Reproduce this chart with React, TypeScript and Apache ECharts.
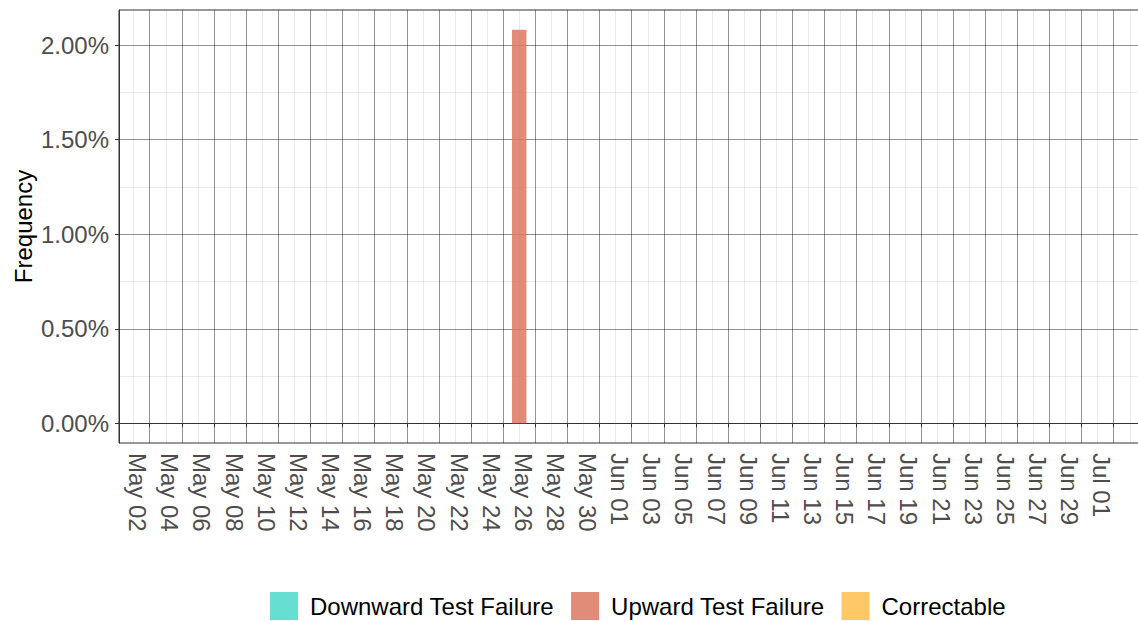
import React, { useEffect, useRef } from "react";
import * as echarts from "echarts";

const DAY = 86400000;
const FONT = "'Liberation Sans', Arial, Helvetica, sans-serif";
const MONTHS = ["Jan", "Feb", "Mar", "Apr", "May", "Jun", "Jul", "Aug", "Sep", "Oct", "Nov", "Dec"];

const seriesNames = ["Downward Test Failure", "Upward Test Failure", "Correctable"];
const seriesColors = ["#4BD8CA", "#DC7860", "#FFBE4B"];

const downwardDates: string[] = [];
const downwardValues: number[] = [];
const upwardDates = ["2024-05-25"];
const upwardValues = [0.02082];
const correctableDates: string[] = [];
const correctableValues: number[] = [];

const xTickDates = [
  "2024-05-02", "2024-05-04", "2024-05-06", "2024-05-08", "2024-05-10", "2024-05-12",
  "2024-05-14", "2024-05-16", "2024-05-18", "2024-05-20", "2024-05-22", "2024-05-24",
  "2024-05-26", "2024-05-28", "2024-05-30", "2024-06-01", "2024-06-03", "2024-06-05",
  "2024-06-07", "2024-06-09", "2024-06-11", "2024-06-13", "2024-06-15", "2024-06-17",
  "2024-06-19", "2024-06-21", "2024-06-23", "2024-06-25", "2024-06-27", "2024-06-29",
  "2024-07-01",
];
const yTickValues = [0, 0.005, 0.01, 0.015, 0.02];
const yMinorValues = [0.0025, 0.0075, 0.0125, 0.0175];
const yRange = [-0.00104, 0.02186];
const xRangeDaysFromFirstTick = [-1.91, 61.7];
const barWidthDays = 0.9;

const toMs = (s: string) => Date.parse(s + "T00:00:00Z");
const fmtDate = (v: number) => {
  const d = new Date(v);
  return MONTHS[d.getUTCMonth()] + " " + String(d.getUTCDate()).padStart(2, "0");
};
const fmtPct = (v: number) => (v * 100).toFixed(2) + "%";

export default function App() {
  const ref = useRef<HTMLDivElement>(null);
  useEffect(() => {
    if (!ref.current) return;
    const chart = echarts.init(ref.current, undefined, { renderer: "svg" });
    const majorX = xTickDates.map(toMs);
    const minorX: number[] = [majorX[0] - DAY];
    majorX.forEach((m) => minorX.push(m + DAY));
    const xMin = majorX[0] + xRangeDaysFromFirstTick[0] * DAY;
    const xMax = majorX[0] + xRangeDaysFromFirstTick[1] * DAY;

    const makeSeries = (name: string, color: string, dates: string[], values: number[]) => ({
      type: "custom" as const,
      name,
      xAxisIndex: 0,
      yAxisIndex: 0,
      itemStyle: { color, opacity: 0.85 },
      data: dates.map((d, i) => [toMs(d), values[i]]),
      renderItem: (params: any, api: any) => {
        const x = api.value(0);
        const y = api.value(1);
        const p0 = api.coord([x - (barWidthDays / 2) * DAY, 0]);
        const p1 = api.coord([x + (barWidthDays / 2) * DAY, y]);
        return {
          type: "rect",
          shape: { x: p0[0], y: p1[1], width: p1[0] - p0[0], height: p0[1] - p1[1] },
          style: { fill: color, opacity: 0.85 },
        };
      },
    });

    const axisLineStyle = { color: "#333333", width: 1 };
    const majorGrid = { color: "rgba(0,0,0,0.42)", width: 1 };
    const minorGrid = { color: "rgba(0,0,0,0.08)", width: 1 };

    chart.setOption({
      animation: false,
      textStyle: { fontFamily: FONT },
      grid: {
        left: 119,
        top: 10,
        right: -3,
        bottom: 178,
        outerBoundsMode: "none",
        containLabel: false,
        show: true,
        borderColor: "#333333",
        borderWidth: 1,
        backgroundColor: "transparent",
      },
      legend: {
        data: seriesNames,
        left: 270,
        top: 592,
        padding: 0,
        icon: "rect",
        itemWidth: 28,
        itemHeight: 28,
        itemGap: 17,
        textStyle: { fontSize: 24, color: "#000", fontFamily: FONT, padding: [0, 0, 0, 7] },
      },
      xAxis: [
        {
          type: "value",
          min: xMin,
          max: xMax,
          position: "bottom",
          axisLine: { show: true, lineStyle: axisLineStyle },
          axisTick: { show: true, length: 4, customValues: majorX, lineStyle: axisLineStyle },
          axisLabel: {
            customValues: majorX,
            rotate: -90,
            verticalAlign: "top",
            margin: 10,
            fontSize: 24,
            color: "#4D4D4D",
            fontFamily: FONT,
            formatter: fmtDate,
          },
          splitLine: { show: true, lineStyle: majorGrid },
        },
        {
          type: "value",
          min: xMin,
          max: xMax,
          position: "bottom",
          axisLine: { show: false },
          axisTick: { show: false, customValues: minorX },
          axisLabel: { show: false },
          splitLine: { show: true, lineStyle: minorGrid },
        },
      ],
      yAxis: [
        {
          type: "value",
          min: yRange[0],
          max: yRange[1],
          name: "Frequency",
          nameLocation: "middle",
          nameGap: 84,
          nameMoveOverlap: false,
          nameTextStyle: { fontSize: 24, color: "#000", fontFamily: FONT },
          axisLine: { show: true, lineStyle: axisLineStyle },
          axisTick: { show: true, length: 4, customValues: yTickValues, lineStyle: axisLineStyle },
          axisLabel: {
            customValues: yTickValues,
            margin: 10,
            fontSize: 24,
            color: "#4D4D4D",
            fontFamily: FONT,
            formatter: fmtPct,
          },
          splitLine: { show: true, lineStyle: majorGrid },
        },
        {
          type: "value",
          min: yRange[0],
          max: yRange[1],
          position: "left",
          axisLine: { show: false },
          axisTick: { show: false, customValues: yMinorValues },
          axisLabel: { show: false },
          splitLine: { show: true, lineStyle: minorGrid },
        },
      ],
      series: [
        makeSeries(seriesNames[0], seriesColors[0], downwardDates, downwardValues),
        makeSeries(seriesNames[1], seriesColors[1], upwardDates, upwardValues),
        makeSeries(seriesNames[2], seriesColors[2], correctableDates, correctableValues),
      ],
    });
    return () => chart.dispose();
  }, []);
  return (
    <div
      ref={ref}
      style={{ position: "fixed", left: 0, top: 0, width: 1138, height: 621, background: "#fff" }}
    />
  );
}
